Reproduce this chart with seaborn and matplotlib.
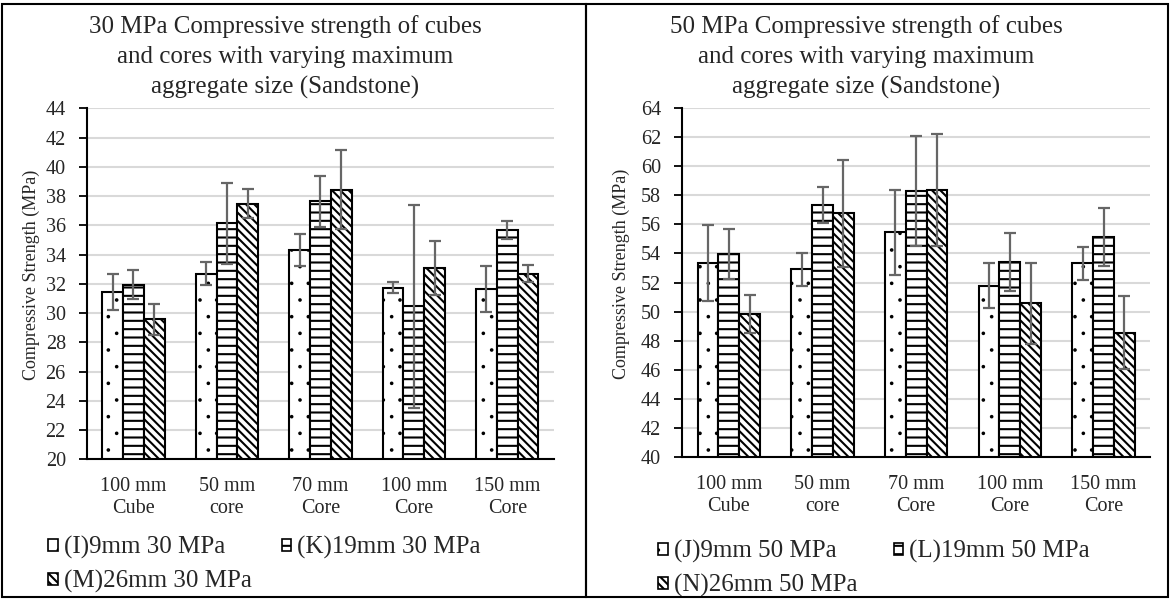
import numpy as np
import pandas as pd
import matplotlib
matplotlib.use("Agg")
import matplotlib.pyplot as plt
import matplotlib.hatch as mhatch
from matplotlib.patches import Patch, Rectangle
import seaborn as sns

# ---- data -------------------------------------------------------------
categories = ["100 mm\nCube", "50 mm\ncore", "70 mm\nCore", "100 mm\nCore", "150 mm\nCore"]

series_30 = ["(I)9mm 30 MPa", "(K)19mm 30 MPa", "(M)26mm 30 MPa"]
i_9mm_30 = [31.42, 32.70, 34.29, 31.72, 31.63]
k_19mm_30 = [31.95, 36.13, 37.63, 30.47, 35.68]
m_26mm_30 = [29.58, 37.47, 38.43, 33.08, 32.70]
i_err_30 = [1.22, 0.78, 1.10, 0.37, 1.58]
k_err_30 = [1.00, 2.78, 1.76, 6.94, 0.59]
m_err_30 = [1.07, 1.00, 2.70, 1.84, 0.60]

series_50 = ["(J)9mm 50 MPa", "(L)19mm 50 MPa", "(N)26mm 50 MPa"]
j_9mm_50 = [53.33, 52.90, 55.47, 51.79, 53.31]
l_19mm_50 = [53.95, 57.33, 58.28, 53.43, 55.13]
n_26mm_50 = [49.82, 56.76, 58.34, 50.57, 48.55]
j_err_50 = [2.62, 1.13, 2.93, 1.53, 1.12]
l_err_50 = [1.72, 1.24, 3.80, 2.00, 1.99]
n_err_50 = [1.32, 3.70, 3.86, 2.78, 2.50]

title_30 = "30 MPa Compressive strength of cubes\nand cores with varying maximum\naggregate size (Sandstone)"
title_50 = "50 MPa Compressive strength of cubes\nand cores with varying maximum\naggregate size (Sandstone)"
y_label = "Compressive Strength (MPa)"

# ---- style ------------------------------------------------------------
sns.set_style("white")
plt.rcParams["font.family"] = ["Liberation Serif", "DejaVu Serif"]
plt.rcParams["hatch.linewidth"] = 1.5
plt.rcParams["hatch.color"] = "black"


# finer dots for the "." hatch (smaller than the default small filled circles)
class FineDots(mhatch.SmallFilledCircles):
    size = 0.045


mhatch._hatch_types[mhatch._hatch_types.index(mhatch.SmallFilledCircles)] = FineDots

hatches = [".", "--", "\\\\\\\\"]
err_color = "#666666"

fig = plt.figure(figsize=(11.71, 6.01), dpi=100)


def long_frame(names, columns):
    rows = []
    for name, vals in zip(names, columns):
        for cat, v in zip(categories, vals):
            rows.append({"category": cat, "series": name, "value": v})
    return pd.DataFrame(rows)


def draw_panel(rect, names, columns, errors, ylim, yticks, title, title_xy,
               ylabel_x, legend_xy, colspace):
    ax = fig.add_axes(rect)
    df = long_frame(names, columns)
    sns.barplot(data=df, x="category", y="value", hue="series",
                order=categories, hue_order=names,
                palette=["white"] * 3, edgecolor="black", linewidth=1.5,
                width=0.667, gap=0, errorbar=None, legend=False, ax=ax,
                zorder=2)
    for cont, hatch, err in zip(ax.containers, hatches, errors):
        xs, ys = [], []
        for patch in cont:
            patch.set_hatch(hatch)
            xs.append(patch.get_x() + patch.get_width() / 2)
            ys.append(patch.get_height())
        ax.errorbar(xs, ys, yerr=err, fmt="none", ecolor=err_color,
                    elinewidth=1.6, capsize=4.5, capthick=1.6, zorder=3)

    ax.set_ylim(*ylim)
    ax.set_xlim(-0.5, len(categories) - 0.5)
    ax.set_yticks(yticks)
    ax.yaxis.grid(True, color="#d9d9d9", linewidth=1.5)
    ax.set_axisbelow(True)
    for side in ("top", "right"):
        ax.spines[side].set_visible(False)
    for side in ("left", "bottom"):
        ax.spines[side].set_color("black")
        ax.spines[side].set_linewidth(1.5)
    ax.tick_params(axis="y", left=True, length=6, width=1.3, color="black",
                   labelsize=14.5, pad=9)
    ax.tick_params(axis="x", bottom=False, length=0, labelsize=14.5, pad=13)
    for lab in ax.get_xticklabels():
        lab.set_linespacing(1.2)
    ax.set_xlabel("")
    ax.set_ylabel("")
    fig.text(ylabel_x, rect[1] + rect[3] / 2 + 0.015, y_label, rotation=90,
             ha="center", va="center", fontsize=13)
    fig.text(title_xy[0], title_xy[1], title, ha="center", va="center",
             fontsize=18, linespacing=1.45)

    handles = [Patch(facecolor="white", edgecolor="black", hatch=h, linewidth=1.2)
               for h in hatches]
    order = [0, 2, 1]
    ax.legend([handles[k] for k in order], [names[k] for k in order],
              loc="upper left", bbox_to_anchor=legend_xy,
              bbox_transform=fig.transFigure, ncol=2, frameon=False,
              fontsize=18, handlelength=0.38, handleheight=0.38,
              handletextpad=0.25, columnspacing=colspace, labelspacing=0.45,
              borderpad=0, borderaxespad=0)
    return ax


W, H = 1171.0, 601.0

draw_panel([86.7 / W, 1 - 459.3 / H, (554 - 86.7) / W, (459.3 - 108.3) / H],
           series_30, [i_9mm_30, k_19mm_30, m_26mm_30],
           [i_err_30, k_err_30, m_err_30],
           (20, 44), np.arange(20, 45, 2), title_30,
           (285 / W, 1 - 57 / H), 31 / W, (48 / W, 1 - 536 / H), 1.2)

draw_panel([682 / W, 1 - 456.7 / H, (1150.4 - 682) / W, (456.7 - 108.3) / H],
           series_50, [j_9mm_50, l_19mm_50, n_26mm_50],
           [j_err_50, l_err_50, n_err_50],
           (40, 64), np.arange(40, 65, 2), title_50,
           (866 / W, 1 - 57 / H), 621 / W, (658 / W, 1 - 540 / H), 1.45)

# panel frames
for x0, x1 in ((2, 586), (586, 1168)):
    fig.add_artist(Rectangle((x0 / W, 1 - 597 / H), (x1 - x0) / W, (597 - 4) / H,
                             transform=fig.transFigure, fill=False,
                             edgecolor="black", linewidth=1.5))

fig.savefig("out.png", dpi=100)
